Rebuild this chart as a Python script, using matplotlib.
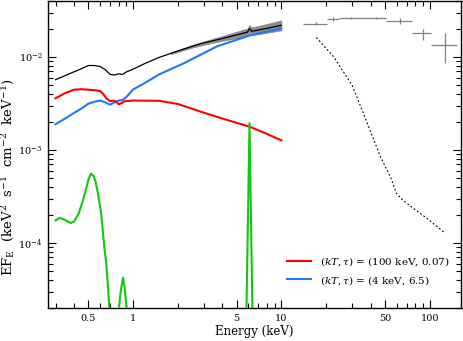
import matplotlib
matplotlib.use("Agg")
import matplotlib.pyplot as plt
from matplotlib.ticker import FixedLocator, FixedFormatter, LogLocator, NullFormatter

plt.rcParams['font.family'] = ['DejaVu Serif']
plt.rcParams['mathtext.fontset'] = 'dejavuserif'

# ---------------- data ----------------
red_E = [0.30, 0.35, 0.40, 0.45, 0.50, 0.55, 0.60, 0.63, 0.66, 0.70, 0.74, 0.77, 0.80, 0.84, 0.88,
         1.0, 1.5, 2.0, 3.0, 4.0, 5.0, 6.17, 8.0, 10.0]
red_F = [3.6e-3, 4.1e-3, 4.45e-3, 4.5e-3, 4.45e-3, 4.4e-3, 4.3e-3, 4.0e-3, 3.6e-3, 3.35e-3, 3.4e-3,
         3.3e-3, 3.1e-3, 3.2e-3, 3.35e-3, 3.4e-3, 3.38e-3, 3.13e-3, 2.52e-3, 2.18e-3, 1.96e-3,
         1.77e-3, 1.49e-3, 1.27e-3]

blue_E = [0.30, 0.35, 0.40, 0.45, 0.50, 0.55, 0.60, 0.65, 0.70, 0.75, 0.80, 0.85, 0.90, 1.0,
          1.2, 1.5, 2.18, 3.68, 6.17, 10.0]
blue_F = [1.89e-3, 2.19e-3, 2.5e-3, 2.8e-3, 3.15e-3, 3.3e-3, 3.4e-3, 3.25e-3, 3.07e-3, 3.25e-3,
          3.4e-3, 3.45e-3, 3.7e-3, 4.47e-3, 5.25e-3, 6.5e-3, 8.5e-3, 1.30e-2, 1.71e-2, 2.02e-2]

black_E = [0.30, 0.35, 0.40, 0.45, 0.50, 0.55, 0.60, 0.65, 0.70, 0.75, 0.80, 0.85, 0.90, 1.0,
           1.2, 1.5, 2.0, 2.84, 4.0, 5.9, 6.1, 6.3, 8.0, 10.0]
black_F = [5.7e-3, 6.33e-3, 6.93e-3, 7.5e-3, 8.1e-3, 8.1e-3, 7.9e-3, 7.3e-3, 6.5e-3, 6.4e-3,
           6.6e-3, 6.5e-3, 6.9e-3, 7.4e-3, 8.5e-3, 9.9e-3, 1.16e-2, 1.39e-2, 1.58e-2, 1.85e-2,
           2.02e-2, 1.89e-2, 2.03e-2, 2.19e-2]

green_E = [0.30, 0.32, 0.34, 0.36, 0.38, 0.40, 0.43, 0.46, 0.48, 0.50, 0.52, 0.54, 0.56, 0.58,
           0.61, 0.64, 0.66, 0.68, 0.70, 0.72, 0.78, 0.80, 0.82, 0.855, 0.88, 0.91, 0.93,
           1.0, 5.78, 6.1, 6.42, 10.0]
green_F = [1.75e-4, 1.86e-4, 1.8e-4, 1.72e-4, 1.64e-4, 1.7e-4, 2.07e-4, 2.9e-4, 3.7e-4, 4.8e-4,
           5.57e-4, 5.3e-4, 4.5e-4, 3.4e-4, 2.07e-4, 9e-5, 6e-5, 3.2e-5, 1.5e-5, 5e-6, 3e-6,
           1.8e-5, 2.8e-5, 4.24e-5, 3.2e-5, 1.8e-5, 5e-6, 1e-7, 1e-5, 1.95e-3, 1e-5, 1e-7]

# observed soft X-ray spectrum (gray band spanned by the data)
gray_E = [1.8, 2.5, 3.5, 4.3, 5.5, 5.9, 6.1, 6.3, 7.5, 10.0]
gray_lo = [1.075e-2, 1.26e-2, 1.429e-2, 1.522e-2, 1.647e-2, 1.694e-2, 1.842e-2, 1.716e-2,
           1.791e-2, 1.934e-2]
gray_hi = [1.115e-2, 1.344e-2, 1.581e-2, 1.739e-2, 1.963e-2, 2.02e-2, 2.215e-2, 2.082e-2,
           2.213e-2, 2.48e-2]

# hard X-ray data points (bin centers, bin edges, flux, flux errors)
hx_E = [17.2, 22.2, 29.7, 43.2, 63.1, 89.7, 126.3]
hx_Elo = [14.1, 20.4, 24.4, 36.0, 51.0, 76.4, 101.6]
hx_Ehi = [20.4, 24.4, 36.0, 50.4, 76.4, 102.6, 153.8]
hx_F = [2.29e-2, 2.59e-2, 2.65e-2, 2.65e-2, 2.44e-2, 1.79e-2, 1.36e-2]
hx_Flo = [2.22e-2, 2.45e-2, 2.58e-2, 2.58e-2, 2.28e-2, 1.54e-2, 8.7e-3]
hx_Fhi = [2.36e-2, 2.72e-2, 2.72e-2, 2.72e-2, 2.62e-2, 2.02e-2, 1.83e-2]

dash_E = [17.2, 22.6, 30.0, 35.1, 39.9, 46.7, 54.5, 59.8, 65.3, 78.2, 96.3, 124.8]
dash_F = [1.62e-2, 1.0e-2, 4.96e-3, 2.67e-3, 1.58e-3, 8.4e-4, 5.1e-4, 3.4e-4, 2.93e-4, 2.34e-4,
          1.83e-4, 1.31e-4]

xticks = [0.5, 1, 5, 10, 50, 100]
xticklabels = ['0.5', '1', '5', '10', '50', '100']
red_label = r'$(kT, \tau)$ = (100 keV, 0.07)'
blue_label = r'$(kT, \tau)$ = (4 keV, 6.5)'

# ---------------- plot ----------------
fig = plt.figure(figsize=(4.64, 3.41), dpi=100)
ax = fig.add_axes([48 / 464, 33 / 341, (461.5 - 48) / 464, 307 / 341])
ax.set_xscale('log')
ax.set_yscale('log')

ax.fill_between(gray_E, gray_lo, gray_hi, color='#8c8c8c', lw=0.5, edgecolor='#8c8c8c', zorder=2)
ax.plot(black_E, black_F, color='black', lw=0.9, zorder=3)
ax.plot(blue_E, blue_F, color='#1e78ff', lw=1.5, zorder=4, label=blue_label)
ax.plot(red_E, red_F, color='#ff0000', lw=1.5, zorder=4, label=red_label)
ax.plot(green_E, green_F, color='#10c810', lw=1.5, zorder=4)
ax.plot(dash_E, dash_F, color='black', lw=0.8, linestyle=(0, (1.6, 2.0)), zorder=3)

xerr = [[c - l for c, l in zip(hx_E, hx_Elo)], [h - c for c, h in zip(hx_E, hx_Ehi)]]
yerr = [[c - l for c, l in zip(hx_F, hx_Flo)], [h - c for c, h in zip(hx_F, hx_Fhi)]]
ax.errorbar(hx_E, hx_F, xerr=xerr, yerr=yerr, fmt='none', ecolor='#808080', elinewidth=0.9,
            capsize=0, zorder=3)

ax.set_xlim(0.267, 164)
ax.set_ylim(2e-5, 4e-2)

ax.xaxis.set_major_locator(FixedLocator(xticks))
ax.xaxis.set_major_formatter(FixedFormatter(xticklabels))
ax.xaxis.set_minor_locator(LogLocator(base=10, subs=range(1, 10), numticks=20))
ax.xaxis.set_minor_formatter(NullFormatter())
ax.yaxis.set_minor_locator(LogLocator(base=10, subs=range(1, 10), numticks=20))
ax.yaxis.set_minor_formatter(NullFormatter())

ax.tick_params(which='both', direction='in', top=True, right=True, width=0.8, labelsize=7)
ax.tick_params(which='major', length=6, pad=4)
ax.tick_params(which='minor', length=3.5)
for s in ax.spines.values():
    s.set_linewidth(1.0)

ax.set_xlabel('Energy (keV)', fontsize=8.5, labelpad=2)
ax.set_ylabel(r'EF$_{\rm E}$  (keV$^2$  s$^{-1}$  cm$^{-2}$  keV$^{-1}$)', fontsize=9.5)
ax.yaxis.set_label_coords(-0.074, 0.425)

handles, labels = ax.get_legend_handles_labels()
leg = ax.legend([handles[1], handles[0]], [labels[1], labels[0]], loc='center left',
                bbox_to_anchor=(0.565, 0.1205), frameon=False, fontsize=7.5, borderpad=0,
                handlelength=2.3, handletextpad=0.9, labelspacing=0.5)

fig.savefig('out.png', dpi=100)
